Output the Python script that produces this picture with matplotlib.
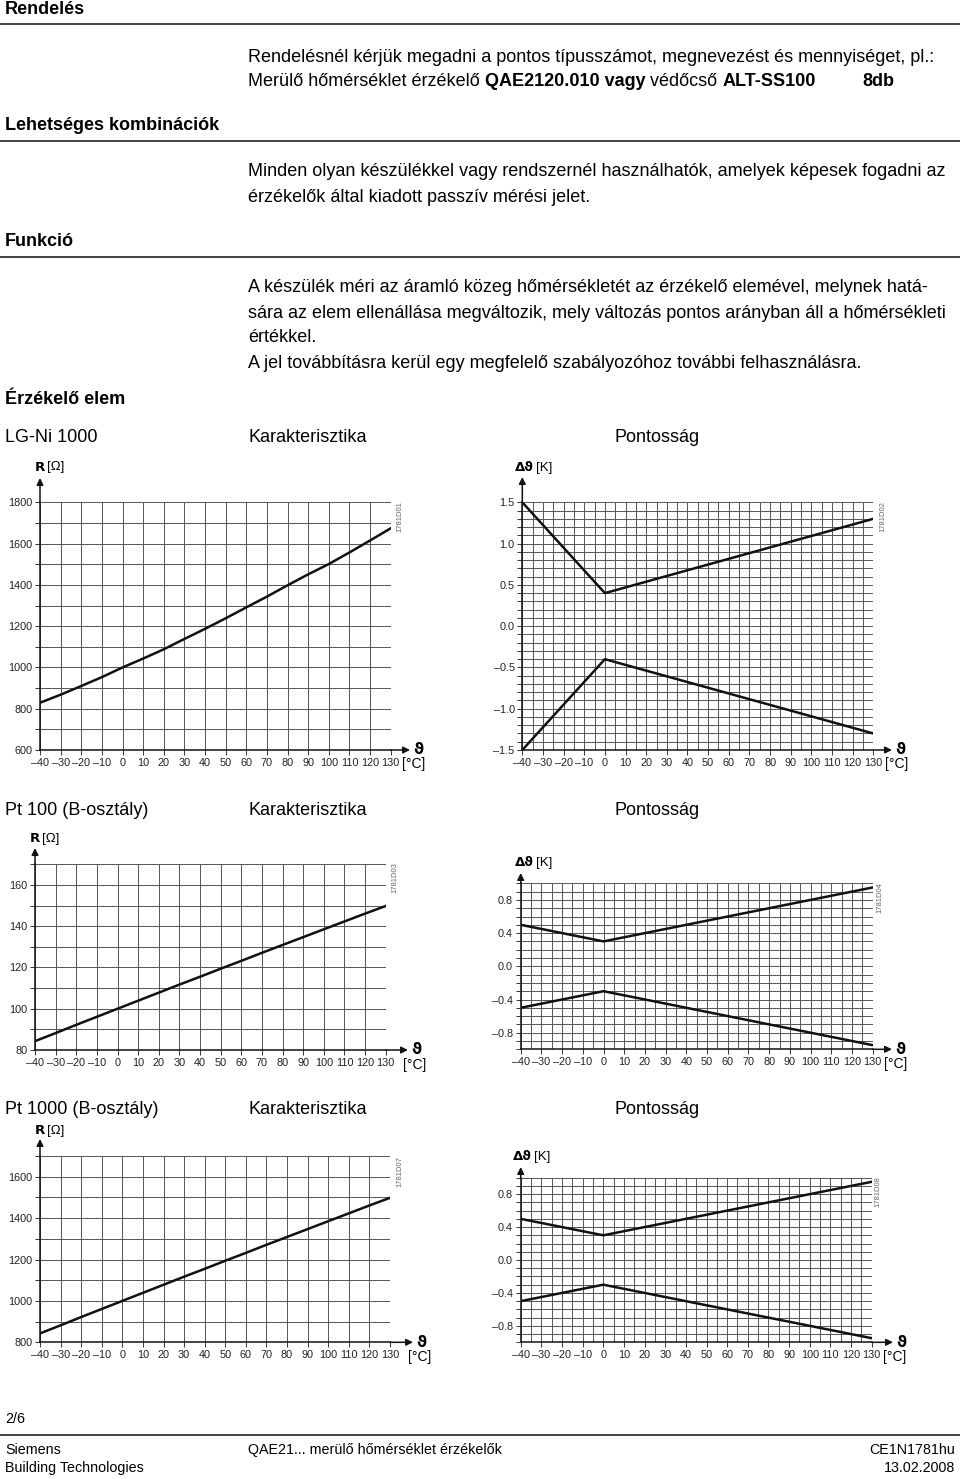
import matplotlib
matplotlib.use('Agg')
import matplotlib.pyplot as plt

plt.rcParams['font.family'] = ['Liberation Sans', 'DejaVu Sans']

# adatok
homerseklet = [-40, -30, -20, -10, 0, 10, 20, 30, 40, 50, 60, 70, 80, 90, 100, 110, 120, 130]
lgni_r = [829, 868, 910, 953, 1000, 1043, 1088, 1138, 1187, 1238, 1291, 1343, 1398, 1451, 1501, 1557, 1615, 1674]
pt100_r = [84.3, 88.2, 92.2, 96.1, 100.0, 103.9, 107.8, 111.7, 115.5, 119.4, 123.2, 127.1, 130.9, 134.7, 138.5, 142.3, 146.1, 149.8]
pt1000_r = [843, 882, 922, 961, 1000, 1039, 1078, 1117, 1155, 1194, 1232, 1271, 1309, 1347, 1385, 1423, 1461, 1498]

pont_t = [-40, 0, 130]
lgni_fel = [1.5, 0.4, 1.3]
lgni_le = [-1.5, -0.4, -1.3]
pt_fel = [0.5, 0.3, 0.95]
pt_le = [-0.5, -0.3, -0.95]

x_cimkek = ['–40', '–30', '–20', '–10', '0', '10', '20', '30', '40', '50', '60', '70', '80', '90', '100', '110', '120', '130']

W, H = 960, 1479
fig = plt.figure(figsize=(W / 100, H / 100), dpi=100)
rend = fig.canvas.get_renderer()


def fy(y):
    return 1 - y / H


def szoveg(x, y, s, **kw):
    kw.setdefault('fontsize', 13.0)
    kw.setdefault('va', 'center')
    return fig.text(x / W, fy(y), s, **kw)


def vonal(y):
    fig.add_artist(plt.Line2D([0, 1], [fy(y), fy(y)], color='#333333', lw=1.3))


# fejlecek es szoveg
szoveg(5, 9, 'Rendelés', weight='bold')
vonal(24)
szoveg(248, 57, 'Rendelésnél kérjük megadni a pontos típusszámot, megnevezést és mennyiséget, pl.:')
x = 248
for s, w in [('Merülő hőmérséklet érzékelő ', 'normal'), ('QAE2120.010 vagy', 'bold'),
             (' védőcső ', 'normal'), ('ALT-SS100', 'bold')]:
    t = szoveg(x, 81, s, weight=w)
    x = t.get_window_extent(rend).x1
szoveg(862, 81, '8db', weight='bold')

szoveg(5, 125, 'Lehetséges kombinációk', weight='bold')
vonal(141)
szoveg(248, 172, 'Minden olyan készülékkel vagy rendszernél használhatók, amelyek képesek fogadni az')
szoveg(248, 197, 'érzékelők által kiadott passzív mérési jelet.')

szoveg(5, 241, 'Funkció', weight='bold')
vonal(257)
szoveg(248, 288, 'A készülék méri az áramló közeg hőmérsékletét az érzékelő elemével, melynek hatá-')
szoveg(248, 313, 'sára az elem ellenállása megváltozik, mely változás pontos arányban áll a hőmérsékleti')
szoveg(248, 338, 'értékkel.')
szoveg(248, 363, 'A jel továbbításra kerül egy megfelelő szabályozóhoz további felhasználásra.')
szoveg(5, 399, 'Érzékelő elem', weight='bold')

for y, nev in [(437, 'LG-Ni 1000'), (811, 'Pt 100 (B-osztály)'), (1110, 'Pt 1000 (B-osztály)')]:
    szoveg(5, y, nev)
    szoveg(248, y, 'Karakterisztika')
    szoveg(615, y, 'Pontosság')

# lablec
szoveg(5, 1419, '2/6', fontsize=10.3)
vonal(1435)
szoveg(5, 1450, 'Siemens', fontsize=10.3)
szoveg(5, 1468, 'Building Technologies', fontsize=10.3)
szoveg(248, 1450, 'QAE21... merülő hőmérséklet érzékelők', fontsize=10.3)
szoveg(955, 1450, 'CE1N1781hu', fontsize=10.3, ha='right')
szoveg(955, 1468, '13.02.2008', fontsize=10.3, ha='right')


def diagram(bal, jobb, felso, also, ylim, ylepes, yfinom, ycimkek, xfinom,
            nyil_x, nyil_y, kod, kod_xy, cimke, cimke_xy, c_x, c_y):
    ax = fig.add_axes([bal / W, fy(also), (jobb - bal) / W, (also - felso) / H])
    ax.set_xlim(-40, 130)
    ax.set_ylim(*ylim)
    ax.set_xticks(homerseklet)
    ax.set_xticklabels(x_cimkek)
    ax.set_xticks([v for v in range(-40, 131, xfinom)], minor=True)
    ax.set_yticks(ylepes)
    ax.set_yticklabels(ycimkek)
    ax.set_yticks(yfinom, minor=True)
    ax.grid(True, which='both', color='#555555', lw=0.7)
    ax.tick_params(which='both', direction='out', length=3.5, width=0.7, color='#333333',
                   labelsize=7.8, labelcolor='#222222', pad=2)
    ax.tick_params(axis='x', which='minor', length=0)
    for s in ['top', 'right']:
        ax.spines[s].set_visible(False)
    for s in ['left', 'bottom']:
        ax.spines[s].set_color('#111111')
        ax.spines[s].set_linewidth(1.1)
    sz = jobb - bal
    mg = also - felso
    ax.annotate('', xy=((nyil_x - bal) / sz, 0), xytext=(1, 0), xycoords='axes fraction',
                arrowprops=dict(arrowstyle='-|>', color='#111111', lw=1.1, mutation_scale=10,
                                shrinkA=0, shrinkB=0), annotation_clip=False)
    ax.annotate('', xy=(0, (also - nyil_y) / mg), xytext=(0, 1), xycoords='axes fraction',
                arrowprops=dict(arrowstyle='-|>', color='#111111', lw=1.1, mutation_scale=10,
                                shrinkA=0, shrinkB=0), annotation_clip=False)
    szoveg(nyil_x + 3, also, 'ϑ', fontsize=11, weight='bold', family=['DejaVu Sans'])
    szoveg(c_x, c_y, '[°C]', fontsize=10)
    szoveg(kod_xy[0], kod_xy[1], kod, fontsize=5.5, color='#666666', rotation=90, ha='center')
    t = szoveg(cimke_xy[0], cimke_xy[1], cimke, fontsize=9.5, weight='bold', family=['DejaVu Sans'])
    e = t.get_window_extent(rend)
    szoveg(e.x1 + 2, cimke_xy[1], '[Ω]' if cimke == 'R' else '[K]', fontsize=9.5)
    return ax


# LG-Ni 1000
ax1 = diagram(40, 390.7, 502.3, 750, (600, 1800), range(600, 1801, 200),
              range(600, 1801, 100), ['600', '800', '1000', '1200', '1400', '1600', '1800'], 10,
              410, 478, '1781D01', (400, 517), 'R', (35, 467), 402, 764)
ax1.plot(homerseklet, lgni_r, color='#111111', lw=1.8)

ax2 = diagram(522.3, 873.3, 502.3, 750, (-1.5, 1.5), [-1.5, -1.0, -0.5, 0.0, 0.5, 1.0, 1.5],
              [i / 10 for i in range(-15, 16)], ['–1.5', '–1.0', '–0.5', '0.0', '0.5', '1.0', '1.5'], 5,
              892, 477, '1781D02', (883, 517), 'Δϑ', (515, 468), 885, 764)
ax2.plot(pont_t, lgni_fel, color='#111111', lw=1.8)
ax2.plot(pont_t, lgni_le, color='#111111', lw=1.8)

# Pt 100
ax3 = diagram(35, 385.7, 864.3, 1050, (80, 170), range(80, 161, 20), range(80, 171, 10),
              ['80', '100', '120', '140', '160'], 10,
              408, 848, '1781D03', (395, 878), 'R', (30, 839), 403, 1065)
ax3.plot(homerseklet, pt100_r, color='#111111', lw=1.8)

ax4 = diagram(520.7, 872.7, 883.3, 1049.3, (-1, 1), [-0.8, -0.4, 0.0, 0.4, 0.8],
              [i / 10 for i in range(-10, 11)], ['–0.8', '–0.4', '0.0', '0.4', '0.8'], 5,
              892, 873, '1781D04', (880, 898), 'Δϑ', (515, 863), 884, 1064)
ax4.plot(pont_t, pt_fel, color='#111111', lw=1.8)
ax4.plot(pont_t, pt_le, color='#111111', lw=1.8)

# Pt 1000
ax5 = diagram(40, 390, 1156, 1342.3, (800, 1700), range(800, 1601, 200), range(800, 1701, 100),
              ['800', '1000', '1200', '1400', '1600'], 10,
              413, 1139, '1781D07', (400, 1172), 'R', (35, 1131), 408, 1357)
ax5.plot(homerseklet, pt1000_r, color='#111111', lw=1.8)

ax6 = diagram(520.7, 871.7, 1177.7, 1342.3, (-1, 1), [-0.8, -0.4, 0.0, 0.4, 0.8],
              [i / 10 for i in range(-10, 11)], ['–0.8', '–0.4', '0.0', '0.4', '0.8'], 5,
              893, 1167, '1781D08', (878, 1192), 'Δϑ', (513, 1157), 883, 1357)
ax6.plot(pont_t, pt_fel, color='#111111', lw=1.8)
ax6.plot(pont_t, pt_le, color='#111111', lw=1.8)

fig.savefig('out.png', dpi=100)
